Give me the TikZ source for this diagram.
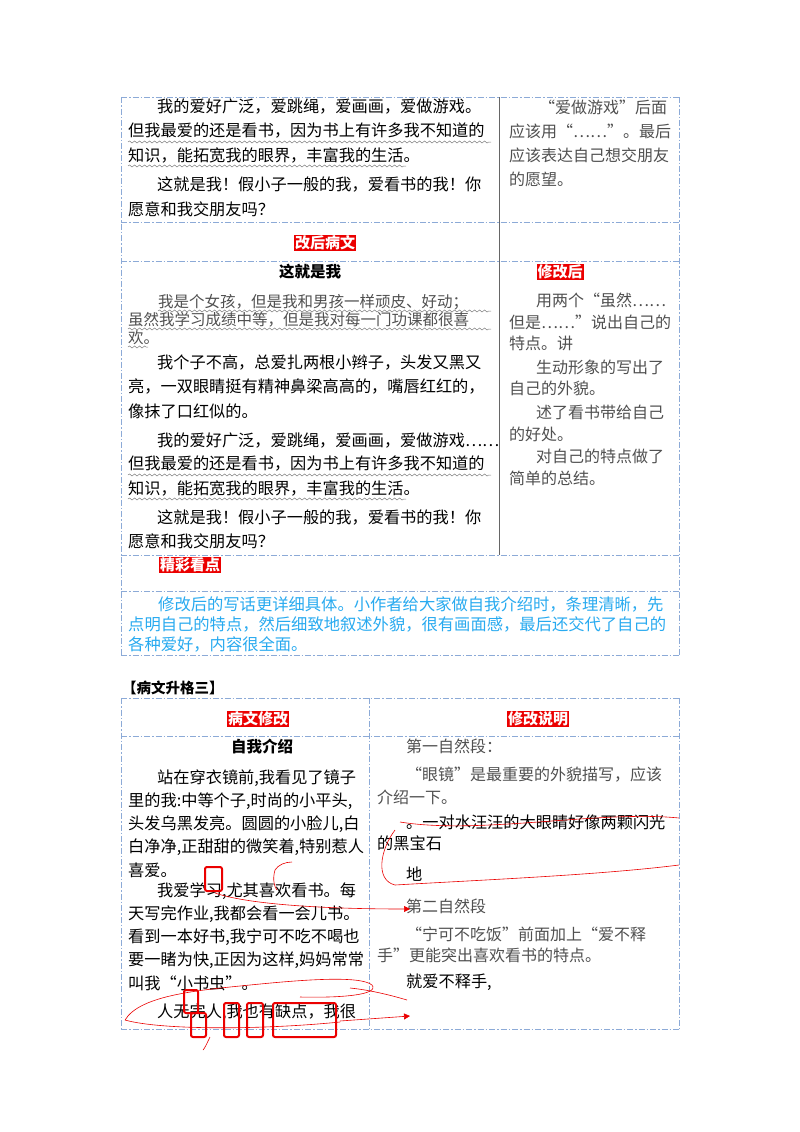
\documentclass[tikz,border=0pt]{standalone}
\usepackage{fontspec}
\setmainfont{Noto Sans CJK SC}
\usetikzlibrary{decorations.pathmorphing,arrows.meta}
\definecolor{tbl}{RGB}{140,170,215}
\definecolor{gtx}{RGB}{80,80,80}
\definecolor{cy}{RGB}{40,170,240}
\definecolor{rd}{RGB}{235,0,0}
\tikzset{
  dd/.style={tbl,line width=0.9pt,dash pattern=on 6pt off 2pt on 1.5pt off 2pt},
  tx/.style={anchor=west,inner sep=0pt,font=\fontsize{16.2}{18}\selectfont},
  rt/.style={tx,text=gtx,font=\fontsize{16}{18}\selectfont},
  ct/.style={tx,text=cy,font=\fontsize{16.3}{18}\selectfont},
  kt/.style={tx,text=gtx,font=\fontsize{15.5}{16}\selectfont},
  hd/.style={fill=rd,text=white,inner sep=1pt,font=\fontsize{15}{18}\selectfont\bfseries},
  bt/.style={inner sep=0pt,font=\fontsize{15.5}{18}\selectfont\bfseries},
  wv/.style={gray,line width=0.5pt,decorate,decoration={snake,amplitude=1pt,segment length=5pt}},
  an/.style={rd,line width=0.6pt},
  bx/.style={rd,line width=2pt,rounded corners=2pt}
}
\begin{document}
\begin{tikzpicture}[x=1pt,y=-1pt]
\useasboundingbox[fill=white] (0,0) rectangle (800,1132);
% table 1 frame
\draw[dd] (121,97) -- (679,97);
\draw[dd] (121,97) -- (121,655);
\draw[dd] (679,97) -- (679,655);
\draw[dd] (121,222) -- (679,222);
\draw[dd] (121,261) -- (679,261);
\draw[dd] (121,555) -- (679,555);
\draw[dd] (121,591) -- (679,591);
\draw[dd] (121,655) -- (679,655);
\draw[gray!80!black,line width=0.8pt] (499,97) -- (499,555);
% row 1
\node[tx] (a1) at (157,107) {我的爱好广泛，爱跳绳，爱画画，爱做游戏。};
\node[tx] (a2) at (128,131) {但我最爱的还是看书，因为书上有许多我不知道的};
\node[tx] (a3) at (128,155) {知识，能拓宽我的眼界，丰富我的生活。};
\node[tx] (a4) at (157,185) {这就是我！假小子一般的我，爱看书的我！你};
\node[tx] (a5) at (128,209) {愿意和我交朋友吗？};
\draw[wv] (128,142) -- (491,142);
\draw[wv] (128,166) -- (406,166);
\node[rt] (r1) at (539,107) {“爱做游戏”后面};
\node[rt] (r2) at (509,131) {应该用“……”。最后};
\node[rt] (r3) at (509,155) {应该表达自己想交朋友};
\node[rt] (r4) at (509,179) {的愿望。};
\node[hd] (h1) at (325,243) {改后病文};
\node[bt] (t1) at (310,272) {这就是我};
\node[hd] (h2) at (560,272) {修改后};
\node[kt] (k1) at (158,302) {我是个女孩，但是我和男孩一样顽皮、好动；};
\node[kt] (k2) at (128,320) {虽然我学习成绩中等，但是我对每一门功课都很喜};
\node[kt] (k3) at (128,338) {欢。};
\draw[wv] (158,311) -- (491,311);
\draw[wv] (128,329) -- (491,329);
\draw[wv] (128,347) -- (148,347);
\node[tx] (b1) at (157,363) {我个子不高，总爱扎两根小辫子，头发又黑又};
\node[tx] (b2) at (128,387) {亮，一双眼睛挺有精神鼻梁高高的，嘴唇红红的，};
\node[tx] (b3) at (128,411) {像抹了口红似的。};
\node[tx] (b4) at (157,441) {我的爱好广泛，爱跳绳，爱画画，爱做游戏……};
\node[tx] (b5) at (128,464) {但我最爱的还是看书，因为书上有许多我不知道的};
\node[tx] (b6) at (128,488) {知识，能拓宽我的眼界，丰富我的生活。};
\draw[wv] (128,475) -- (491,475);
\draw[wv] (128,499) -- (406,499);
\node[tx] (b7) at (157,518) {这就是我！假小子一般的我，爱看书的我！你};
\node[tx] (b8) at (128,541) {愿意和我交朋友吗？};
\node[rt] (s1) at (536,300) {用两个“虽然……};
\node[rt] (s2) at (509,322) {但是……”说出自己的};
\node[rt] (s3) at (509,343) {特点。讲};
\node[rt] (s4) at (536,367) {生动形象的写出了};
\node[rt] (s5) at (509,388) {自己的外貌。};
\node[rt] (s6) at (536,412) {述了看书带给自己};
\node[rt] (s7) at (509,434) {的好处。};
\node[rt] (s8) at (536,456) {对自己的特点做了};
\node[rt] (s9) at (509,478) {简单的总结。};
\node[hd] (h3) at (190,565) {精彩看点};
\node[ct] (c1) at (158,604) {修改后的写话更详细具体。小作者给大家做自我介绍时，条理清晰，先};
\node[ct] (c2) at (128,624) {点明自己的特点，然后细致地叙述外貌，很有画面感，最后还交代了自己的};
\node[ct] (c3) at (128,644) {各种爱好，内容很全面。};
% table 2
\node[anchor=west,inner sep=0pt,font=\fontsize{14.5}{17}\selectfont\bfseries] (lab) at (122,688) {【病文升格三】};
\draw[dd] (121,698) -- (679,698);
\draw[dd] (121,736) -- (679,736);
\draw[dd] (121,1029) -- (679,1029);
\draw[dd] (121,698) -- (121,1029);
\draw[dd] (679,698) -- (679,1029);
\draw[dd] (369,698) -- (369,1029);
\node[hd] (h4) at (258,719) {病文修改};
\node[hd] (h5) at (538,719) {修改说明};
\node[bt] (t2) at (262,747) {自我介绍};
\node[tx] (d1) at (157,778) {站在穿衣镜前,我看见了镜子};
\node[tx] (d2) at (128,801) {里的我:中等个子,时尚的小平头,};
\node[tx] (d3) at (128,824) {头发乌黑发亮。圆圆的小脸儿,白};
\node[tx] (d4) at (128,847) {白净净,正甜甜的微笑着,特别惹人};
\node[tx] (d5) at (128,870) {喜爱。};
\node[tx] (d6) at (157,891) {我爱学习,尤其喜欢看书。每};
\node[tx] (d7) at (128,914) {天写完作业,我都会看一会儿书。};
\node[tx] (d8) at (128,937) {看到一本好书,我宁可不吃不喝也};
\node[tx] (d9) at (128,960) {要一睹为快,正因为这样,妈妈常常};
\node[tx] (d10) at (128,983) {叫我“小书虫”。};
\node[tx] (d11) at (157,1012) {人无完人,我也有缺点，我很};
\node[rt] (e1) at (406,746) {第一自然段：};
\node[rt] (e2) at (406,775) {“眼镜”是最重要的外貌描写，应该};
\node[rt] (e3) at (377,797) {介绍一下。};
\node[tx] (e4) at (406,822) {。一对水汪汪的大眼睛好像两颗闪光};
\node[tx] (e5) at (377,843) {的黑宝石};
\node[tx] (e6) at (406,874) {地};
\node[rt] (e7) at (406,906) {第二自然段};
\node[rt] (e8) at (406,934) {“宁可不吃饭”前面加上“爱不释};
\node[rt] (e9) at (377,955) {手”更能突出喜欢看书的特点。};
\node[tx] (e10) at (406,982) {就爱不释手,};
% red annotations
\draw[bx] (205,867) rectangle (222,891);
\draw[bx] (184,990) rectangle (198,1013);
\draw[bx] (191,1013) rectangle (206,1037);
\draw[bx] (224,1003) rectangle (239,1037);
\draw[bx] (247,1003) rectangle (263,1037);
\draw[bx] (273,1003) rectangle (336,1037);
\coordinate (p1) at (340,1021);
\coordinate (p2) at (410,1016);
\coordinate (p3) at (215,893);
\coordinate (p4) at (410,909);
\draw[an,-{Triangle[length=6pt,width=6pt]}] (p1) -- (p2);
\draw[an,-{Triangle[length=6pt,width=6pt]}] (p3) .. controls (250,905) and (330,909) .. (p4);
\draw[an] (400,822) .. controls (480,835) and (600,810) .. (679,818);
\draw[an] (395,830) .. controls (380,850) and (375,880) .. (395,885) .. controls (480,880) and (600,875) .. (679,865);
\draw[an] (275,870) .. controls (272,880) and (275,888) .. (277,890);
\draw[an] (275,870) .. controls (278,865) and (285,862) .. (292,862);
\draw[an] (125,1020) .. controls (140,995) and (200,990) .. (250,985) .. controls (300,980) and (360,975) .. (372,985) .. controls (380,995) and (340,998) .. (300,997);
\draw[an] (125,1020) .. controls (160,1030) and (260,1030) .. (340,1022);
\draw[an] (350,988) .. controls (370,990) and (390,995) .. (407,1000);
\draw[an] (210,1037) .. controls (207,1043) and (205,1048) .. (203,1050);
\end{tikzpicture}
\end{document}
